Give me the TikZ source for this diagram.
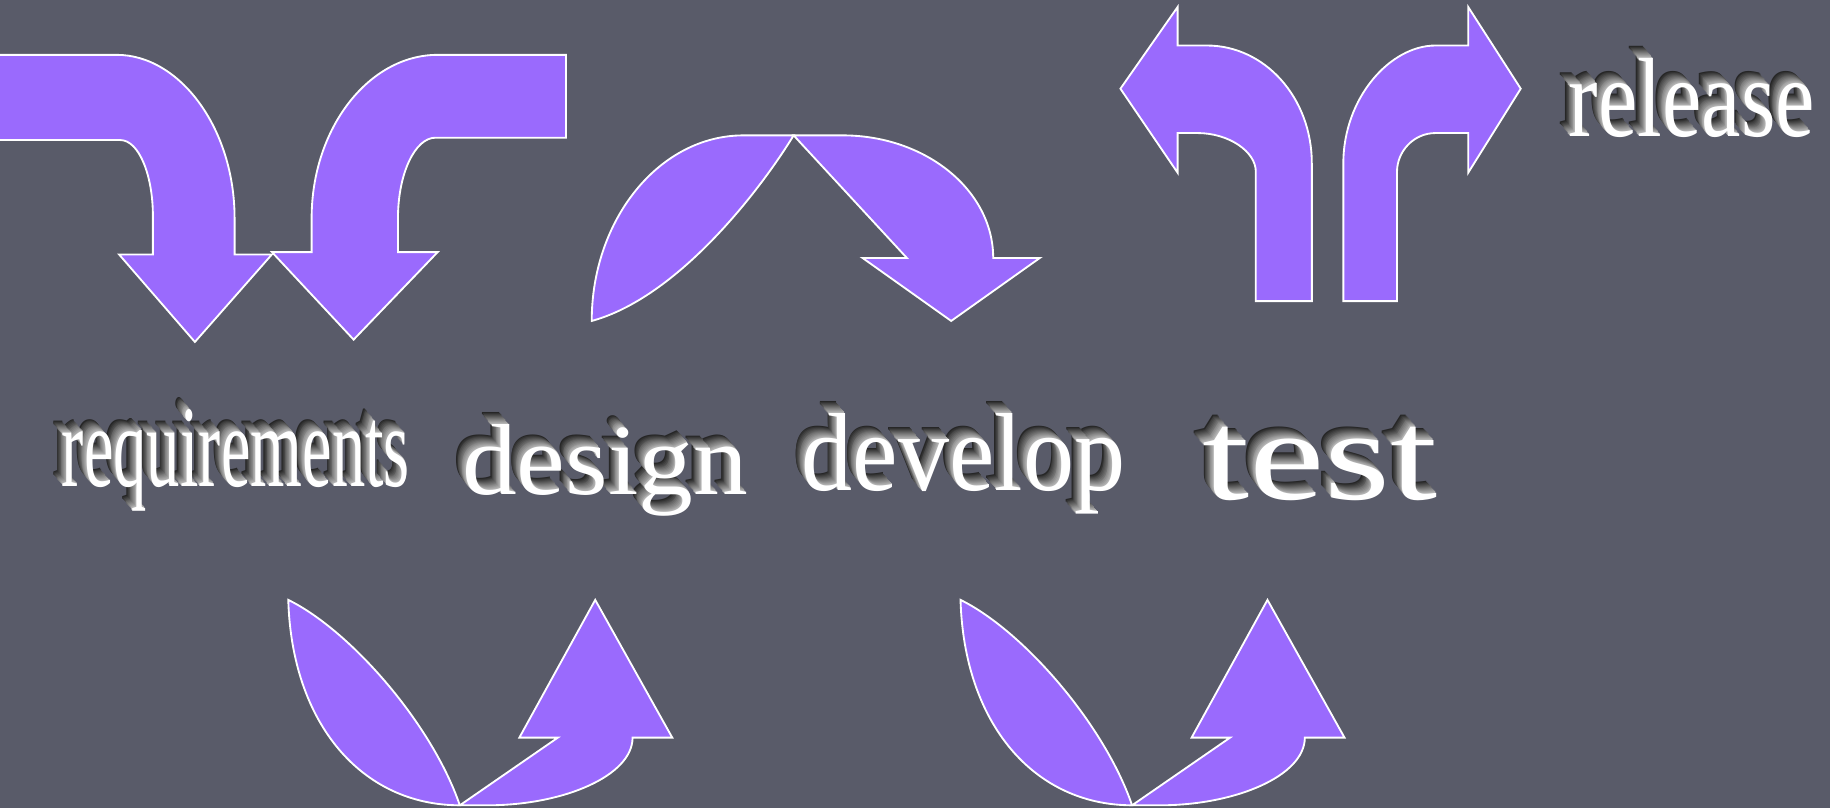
\documentclass[tikz,border=0pt]{standalone}
\usepackage{graphicx}
\usepackage{fontspec}
\setmainfont{Liberation Serif}
\newfontfamily\wafont{Liberation Serif}
\newlength\pxu
\setlength\pxu{0.02cm}
\definecolor{bgcol}{RGB}{89,91,105}
\definecolor{arrowcol}{RGB}{154,106,253}
\tikzset{
  arrowshape/.style={fill=arrowcol, draw=white, line width=0.9pt, line join=miter},
  wa/.style={anchor=base west, inner sep=0pt, outer sep=0pt, font=\wafont},
}
% 3D word art: extruded copies stacked up-left behind a white face, all in one node
\newcommand\wordart[6]{%
  \node[wa, text=white] (#1) at (#2,#3) {%
    \foreach \k in {12,...,1}{%
      \pgfmathtruncatemacro\sh{30+(\k-1)*5}%
      \pgfmathsetmacro\dxx{\k*0.7}%
      \pgfmathsetmacro\dyy{\k*0.85}%
      \makebox[0pt][l]{\hspace*{-\dxx\pxu}\raisebox{\dyy\pxu}{\textcolor{black!\sh}{\resizebox{#4\pxu}{#5\pxu}{#6}}}}%
    }%
    \resizebox{#4\pxu}{#5\pxu}{#6}};%
}
\begin{document}
\begin{tikzpicture}[x=0.02cm, y=-0.02cm]
\useasboundingbox (0,0) rectangle (1568,692);
\fill[bgcol] (0,0) rectangle (1568,692);

% shape 1: left down arrow
\filldraw[arrowshape] (-3,47) -- (100,47) .. controls (154,47) and (201,110) .. (201,187)
  -- (201,218) -- (233,218) -- (167,293) -- (102,218) -- (131,218) -- (131,185)
  .. controls (131,150) and (119,120) .. (103,120) -- (-3,120) -- cycle;

% shape 2: second down arrow
\filldraw[arrowshape] (267,216) -- (267,187) .. controls (267,110) and (316,47) .. (375,47)
  -- (485,47) -- (485,118) -- (373,118) .. controls (356,118) and (341,148) .. (341,187)
  -- (341,216) -- (375,216) -- (303,291) -- (233,216) -- cycle;

% shape 3: arch arrow
\filldraw[arrowshape] (507,275) .. controls (507,188) and (565,116) .. (637,116) -- (680,116)
  .. controls (650,165) and (580,255) .. (507,275) -- cycle;
\filldraw[arrowshape] (680,116) -- (722,116) .. controls (793,116) and (851,163) .. (851,221)
  -- (891,221) -- (815,275) -- (739,221) -- (777,221) -- cycle;

% shape 4: left-turn arrow
\filldraw[arrowshape] (1124,258) -- (1124,140) .. controls (1124,84) and (1084,39) .. (1034,39)
  -- (1009,39) -- (1009,6) -- (960,76) -- (1009,148) -- (1009,114) -- (1026,114)
  .. controls (1053,114) and (1076,130) .. (1076,147) -- (1076,258) -- cycle;

% shape 5: right-turn arrow
\filldraw[arrowshape] (1151,258) -- (1151,140) .. controls (1151,84) and (1191,39) .. (1230,39)
  -- (1258,39) -- (1258,6) -- (1303,76) -- (1258,148) -- (1258,114) -- (1230,114)
  .. controls (1211,114) and (1197,130) .. (1197,147) -- (1197,258) -- cycle;

% shapes 6 and 7: bottom arrows
\foreach \dx in {0,576}{
\begin{scope}[shift={(\dx,0)}]
\filldraw[arrowshape] (247,514) .. controls (250,620) and (310,690) .. (394,690)
  .. controls (370,620) and (300,540) .. (247,514) -- cycle;
\filldraw[arrowshape] (394,690) -- (478,632) -- (445,632) -- (510,514) -- (576,632) -- (542,632)
  .. controls (542,665) and (482,690) .. (418,690) -- cycle;
\end{scope}
}

% word art
\wordart{req}{53}{417}{298}{66}{requirements}
\wordart{des}{396}{424}{245}{60}{design}
\wordart{dev}{687}{420}{277}{66}{develop}
\wordart{tst}{1030}{428}{202}{62}{test}
\wordart{rel}{1344}{117}{211}{67}{release}
\end{tikzpicture}
\end{document}
